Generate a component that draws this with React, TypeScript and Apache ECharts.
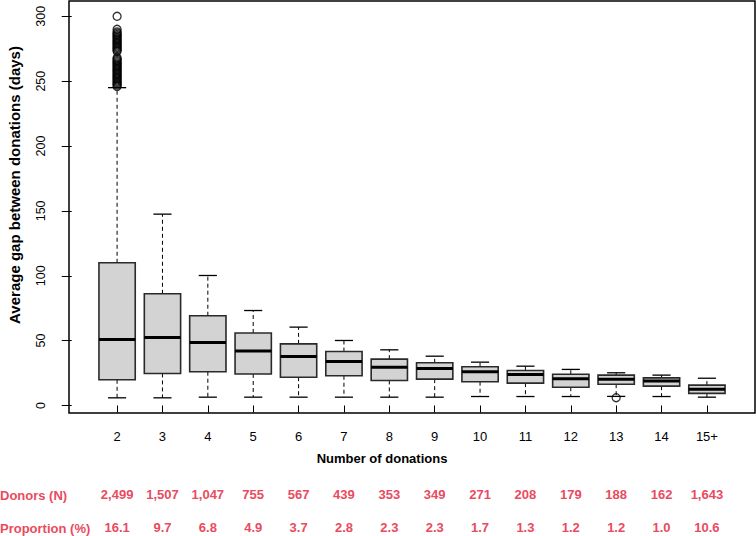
import React, { useEffect, useRef } from 'react';
import * as echarts from 'echarts';

const categories = ['2', '3', '4', '5', '6', '7', '8', '9', '10', '11', '12', '13', '14', '15+'];
const lowerWhisker = [5.9, 5.9, 6.4, 6.4, 6.4, 6.4, 6.4, 6.4, 6.9, 6.9, 6.9, 7.0, 6.9, 6.4];
const q1 = [19.8, 24.7, 26.0, 24.3, 21.8, 22.9, 19.3, 20.3, 18.3, 17.2, 14.1, 16.4, 14.9, 9.3];
const median = [50.9, 52.4, 48.6, 41.9, 37.8, 33.9, 29.5, 28.5, 26.0, 23.9, 20.6, 20.3, 18.8, 12.6];
const q3 = [110.0, 86.1, 69.2, 55.9, 47.5, 41.6, 35.7, 32.9, 29.8, 27.0, 24.1, 23.4, 21.3, 15.7];
const upperWhisker = [245.0, 147.5, 100.2, 73.2, 60.4, 50.1, 42.9, 38.0, 33.4, 30.3, 27.8, 25.2, 23.4, 21.0];
const outliersTwo = [246, 247, 248, 249, 250, 251, 252, 253, 254, 255, 256, 257, 258, 259, 260, 261, 262, 263, 264, 265, 266, 267, 268, 273, 274, 275, 276, 277, 278, 279, 280, 281, 282, 283, 284, 285, 286, 287, 288, 290, 300];
const outliersThirteen = [6.0];
const donors = ['2,499', '1,507', '1,047', '755', '567', '439', '353', '349', '271', '208', '179', '188', '162', '1,643'];
const proportion = ['16.1', '9.7', '6.8', '4.9', '3.7', '2.8', '2.3', '2.3', '1.7', '1.3', '1.2', '1.2', '1.0', '10.6'];
const yTicks = [0, 50, 100, 150, 200, 250, 300];

const FONT = '"Liberation Sans", Arial, Helvetica, sans-serif';
const RED = '#E94B5E';

export default function App() {
  const ref = useRef<HTMLDivElement>(null);
  useEffect(() => {
    const chart = echarts.init(ref.current as HTMLDivElement, null, { renderer: 'svg' });
    const positions = categories.map((_, i) => i + 1);
    const boxData = categories.map((_, i) => [i + 1, lowerWhisker[i], q1[i], median[i], q3[i], upperWhisker[i]]);
    const outlierData = [
      ...outliersTwo.map((v) => [1, v]),
      ...outliersThirteen.map((v) => [12, v]),
    ];
    const makeX = (labels: string[], offset: number, margin: number, color: string, bold: boolean, ticks: boolean) => ({
      type: 'value',
      gridIndex: 0,
      position: 'bottom',
      min: -0.06,
      max: 15.06,
      offset,
      axisLine: { show: false },
      splitLine: { show: false },
      axisTick: { show: ticks, customValues: positions, length: 7, lineStyle: { color: '#000', width: 1 } },
      axisLabel: {
        customValues: positions,
        formatter: (v: number) => labels[Math.round(v) - 1] ?? '',
        margin,
        color,
        fontSize: 13,
        fontWeight: bold ? 'bold' : 'normal',
        fontFamily: FONT,
      },
    });
    chart.setOption({
      animation: false,
      backgroundColor: '#fff',
      grid: { left: 69, right: 1, top: 1, bottom: 123, show: true, borderColor: '#000', borderWidth: 1.5, backgroundColor: 'transparent' },
      xAxis: [
        makeX(categories, 0, 17, '#000', false, true),
        makeX(donors, 60, 15, RED, true, false),
        makeX(proportion, 93, 15, RED, true, false),
      ],
      yAxis: {
        type: 'value',
        min: -5.8,
        max: 311.8,
        axisLine: { show: false },
        splitLine: { show: false },
        axisTick: { show: true, customValues: yTicks, length: 10, lineStyle: { color: '#000', width: 1 } },
        axisLabel: { customValues: yTicks, rotate: 90, margin: 22, color: '#000', fontSize: 12.5, fontFamily: FONT },
      },
      graphic: [
        { type: 'text', x: 14, y: 185, rotation: Math.PI / 2, style: { text: 'Average gap between donations (days)', fontSize: 15, fontWeight: 'bold', fontFamily: FONT, fill: '#000', align: 'center', verticalAlign: 'middle' } },
        { type: 'text', x: 382, y: 458, style: { text: 'Number of donations', fontSize: 13, fontWeight: 'bold', fontFamily: FONT, fill: '#000', align: 'center', verticalAlign: 'middle' } },
        { type: 'text', x: 0, y: 495, style: { text: 'Donors (N)', fontSize: 13, fontWeight: 'bold', fontFamily: FONT, fill: RED, align: 'left', verticalAlign: 'middle' } },
        { type: 'text', x: 0, y: 528, style: { text: 'Proportion (%)', fontSize: 13, fontWeight: 'bold', fontFamily: FONT, fill: RED, align: 'left', verticalAlign: 'middle' } },
      ],
      series: [
        {
          type: 'custom',
          xAxisIndex: 0,
          yAxisIndex: 0,
          data: boxData,
          encode: { x: 0, y: [1, 2, 3, 4, 5] },
          renderItem: (params: any, api: any) => {
            const x = api.value(0);
            const lo = api.coord([x, api.value(1)]);
            const cx = lo[0];
            const yLo = lo[1];
            const yQ1 = api.coord([x, api.value(2)])[1];
            const yMed = api.coord([x, api.value(3)])[1];
            const yQ3 = api.coord([x, api.value(4)])[1];
            const yHi = api.coord([x, api.value(5)])[1];
            const w = api.size([0.8, 0])[0];
            const half = w / 2;
            const cap = w / 4;
            const dash = { stroke: '#000', lineWidth: 1, lineDash: [4, 3] };
            const solid = { stroke: '#000', lineWidth: 1.3 };
            return {
              type: 'group',
              children: [
                { type: 'line', shape: { x1: cx, y1: yQ3, x2: cx, y2: yHi }, style: dash },
                { type: 'line', shape: { x1: cx, y1: yQ1, x2: cx, y2: yLo }, style: dash },
                { type: 'line', shape: { x1: cx - cap, y1: yHi, x2: cx + cap, y2: yHi }, style: solid },
                { type: 'line', shape: { x1: cx - cap, y1: yLo, x2: cx + cap, y2: yLo }, style: solid },
                { type: 'rect', shape: { x: cx - half, y: yQ3, width: w, height: yQ1 - yQ3 }, style: { fill: '#d3d3d3', stroke: '#2a2a2a', lineWidth: 1.6 } },
                { type: 'line', shape: { x1: cx - half, y1: yMed, x2: cx + half, y2: yMed }, style: { stroke: '#000', lineWidth: 3 } },
              ],
            };
          },
        },
        {
          type: 'scatter',
          xAxisIndex: 0,
          yAxisIndex: 0,
          data: outlierData,
          symbol: 'circle',
          symbolSize: 8,
          itemStyle: { color: 'rgba(0,0,0,0)', borderColor: '#000', borderWidth: 1.3 },
          z: 5,
        },
      ],
    });
    return () => chart.dispose();
  }, []);
  return <div ref={ref} style={{ position: 'fixed', left: 0, top: 0, width: 756, height: 536, background: '#fff' }} />;
}
